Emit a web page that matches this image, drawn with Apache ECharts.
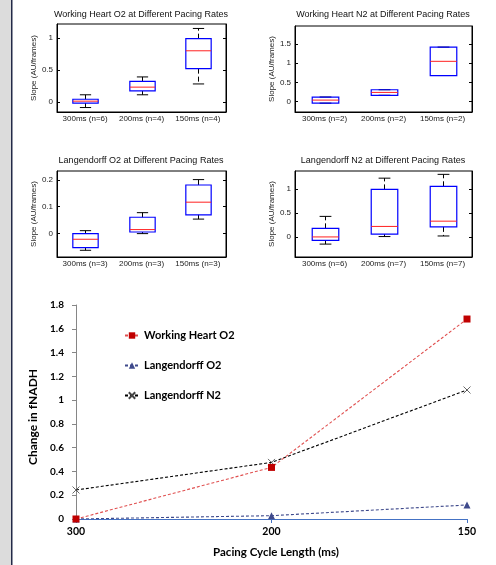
<!DOCTYPE html>
<html>
<head>
<meta charset="utf-8">
<script src="https://cdn.jsdelivr.net/npm/echarts@6/dist/echarts.min.js"></script>
<style>html,body{margin:0;padding:0;background:#fff}#c{width:496px;height:565px}</style>
</head>
<body>
<div id="c"></div>
<script>
// ---- Box-plot panels: [min, q1, median, q3, max] per category ----
var whO2Cats = ['300ms (n=6)', '200ms (n=4)', '150ms (n=4)'];
var whO2Box = [[-0.09, -0.02, 0.01, 0.04, 0.11], [0.11, 0.17, 0.23, 0.32, 0.39], [0.28, 0.52, 0.80, 0.99, 1.15]];
var whO2Ticks = [0, 0.5, 1];

var whN2Cats = ['300ms (n=2)', '200ms (n=2)', '150ms (n=2)'];
var whN2Box = [[-0.04, -0.04, 0.04, 0.12, 0.12], [0.165, 0.165, 0.24, 0.31, 0.31], [0.68, 0.68, 1.05, 1.42, 1.42]];
var whN2Ticks = [0, 0.5, 1, 1.5];

var lgO2Cats = ['300ms (n=3)', '200ms (n=3)', '150ms (n=3)'];
var lgO2Box = [[-0.062, -0.052, -0.021, 0.0, 0.011], [0.0, 0.006, 0.015, 0.061, 0.078], [0.054, 0.070, 0.117, 0.181, 0.201]];
var lgO2Ticks = [0, 0.1, 0.2];

var lgN2Cats = ['300ms (n=6)', '200ms (n=7)', '150ms (n=7)'];
var lgN2Box = [[-0.15, -0.07, 0.0, 0.18, 0.43], [0.008, 0.057, 0.22, 0.995, 1.23], [0.02, 0.21, 0.33, 1.06, 1.31]];
var lgN2Ticks = [0, 0.5, 1];

// ---- Line chart ----
var pacingCats = ['300', '200', '150'];
var lineWorkingHeartO2 = [0, 0.434, 1.682];
var lineLangendorffO2 = [0, 0.028, 0.118];
var lineLangendorffN2 = [0.244, 0.476, 1.085];

var boxFont = 'Liberation Sans, Arial, sans-serif';
var lineFont = 'Lato, sans-serif';

function renderBox(params, api) {
  var i = api.value(0);
  var pMin = api.coord([i, api.value(1)]);
  var pQ1 = api.coord([i, api.value(2)]);
  var pMed = api.coord([i, api.value(3)]);
  var pQ3 = api.coord([i, api.value(4)]);
  var pMax = api.coord([i, api.value(5)]);
  var band = api.size([1, 0])[0];
  var half = band * 0.225, cap = band * 0.1;
  var x = Math.round(pQ1[0]) + 0.5;
  var dash = {stroke: '#000', lineWidth: 1, lineDash: [5, 3]};
  var solid = {stroke: '#000', lineWidth: 1};
  return {
    type: 'group',
    children: [
      {type: 'line', shape: {x1: x, y1: pQ3[1], x2: x, y2: pMax[1]}, style: dash},
      {type: 'line', shape: {x1: x, y1: pQ1[1], x2: x, y2: pMin[1]}, style: dash},
      {type: 'line', shape: {x1: x - cap, y1: pMax[1], x2: x + cap, y2: pMax[1]}, style: solid},
      {type: 'line', shape: {x1: x - cap, y1: pMin[1], x2: x + cap, y2: pMin[1]}, style: solid},
      {type: 'rect', shape: {x: x - half, y: pQ3[1], width: 2 * half, height: pQ1[1] - pQ3[1]},
        style: {fill: 'rgba(0,0,0,0)', stroke: '#0000ff', lineWidth: 1.2}},
      {type: 'line', shape: {x1: x - half, y1: pMed[1], x2: x + half, y2: pMed[1]},
        style: {stroke: '#ff2020', lineWidth: 1}}
    ]
  };
}

var panels = [
  {cats: whO2Cats, box: whO2Box, ticks: whO2Ticks, min: -0.16, max: 1.22,
    grid: {left: 57, top: 24, width: 169, height: 88}, title: 'Working Heart O2 at Different Pacing Rates', tx: 141, ty: 15, gap: 19},
  {cats: whN2Cats, box: whN2Box, ticks: whN2Ticks, min: -0.27, max: 1.97,
    grid: {left: 295, top: 26, width: 177, height: 86}, title: 'Working Heart N2 at Different Pacing Rates', tx: 383, ty: 15, gap: 19},
  {cats: lgO2Cats, box: lgO2Box, ticks: lgO2Ticks, min: -0.087, max: 0.233,
    grid: {left: 57, top: 171, width: 169, height: 86}, title: 'Langendorff O2 at Different Pacing Rates', tx: 141, ty: 161, gap: 18},
  {cats: lgN2Cats, box: lgN2Box, ticks: lgN2Ticks, min: -0.42, max: 1.38,
    grid: {left: 295, top: 171, width: 177, height: 86}, title: 'Langendorff N2 at Different Pacing Rates', tx: 383, ty: 161, gap: 19}
];

var grids = [], xAxes = [], yAxes = [], series = [], graphics = [];

graphics.push({type: 'rect', shape: {x: 0, y: 0, width: 11, height: 565}, style: {fill: '#dcdcdc'}, silent: true});
graphics.push({type: 'rect', shape: {x: 11, y: 0, width: 1.5, height: 565}, style: {fill: '#232a48'}, silent: true});

panels.forEach(function (p, k) {
  grids.push(Object.assign({show: true, borderColor: '#000', borderWidth: 1, backgroundColor: '#fff'}, p.grid));
  xAxes.push({
    type: 'category', gridIndex: k, data: p.cats, boundaryGap: true,
    axisLine: {show: true, onZero: false, lineStyle: {color: '#000'}}, axisTick: {show: false},
    axisLabel: {color: '#222', fontFamily: boxFont, fontSize: 8, margin: 3, interval: 0}
  });
  yAxes.push({
    type: 'value', gridIndex: k, min: p.min, max: p.max, position: 'left',
    name: 'Slope (AU/frames)', nameLocation: 'middle', nameGap: p.gap, nameRotate: 90,
    nameTextStyle: {color: '#222', fontFamily: boxFont, fontSize: 8},
    axisLine: {show: true, onZero: false, lineStyle: {color: '#000'}},
    axisTick: {show: true, inside: true, length: 3, lineStyle: {color: '#000'}, customValues: p.ticks},
    axisLabel: {color: '#222', fontFamily: boxFont, fontSize: 8, margin: 4, customValues: p.ticks},
    splitLine: {show: false}
  });
  yAxes.push({
    type: 'value', gridIndex: k, min: p.min, max: p.max, position: 'right',
    axisLine: {show: true, onZero: false, lineStyle: {color: '#000'}},
    axisTick: {show: true, inside: true, length: 3, lineStyle: {color: '#000'}, customValues: p.ticks},
    axisLabel: {show: false}, splitLine: {show: false}
  });
  series.push({
    type: 'custom', xAxisIndex: k, yAxisIndex: 2 * k, renderItem: renderBox,
    encode: {x: 0, y: [1, 2, 3, 4, 5]},
    data: p.box.map(function (b, i) { return [i].concat(b); }),
    silent: true
  });
  graphics.push({type: 'text', x: p.tx, y: p.ty, silent: true,
    style: {text: p.title, fill: '#111', font: '9px ' + boxFont, textAlign: 'center', textVerticalAlign: 'middle'}});
});

// Line chart grid
var gi = panels.length;
grids.push({left: 76, top: 305, width: 391, height: 214});
xAxes.push({
  type: 'category', gridIndex: gi, data: pacingCats, boundaryGap: false,
  name: 'Pacing Cycle Length (ms)', nameLocation: 'middle', nameGap: 27,
  nameTextStyle: {color: '#000', fontFamily: lineFont, fontWeight: 'bold', fontSize: 11.5, padding: [0, 0, 0, 9]},
  axisLine: {show: true, lineStyle: {color: '#4472c4', width: 1}},
  axisTick: {show: true, length: 4, lineStyle: {color: '#4472c4'}},
  axisLabel: {color: '#000', fontFamily: lineFont, fontWeight: 'bold', fontSize: 10.5, margin: 7}
});
yAxes.push({
  type: 'value', gridIndex: gi, min: 0, max: 1.8, interval: 0.2,
  name: 'Change in fNADH', nameLocation: 'middle', nameGap: 37,
  nameTextStyle: {color: '#000', fontFamily: lineFont, fontWeight: 'bold', fontSize: 12, padding: [0, 10, 0, 0]},
  axisLine: {show: true, lineStyle: {color: '#868686'}},
  axisTick: {show: true, length: 4, lineStyle: {color: '#868686'}},
  axisLabel: {color: '#000', fontFamily: lineFont, fontWeight: 'bold', fontSize: 10, margin: 12},
  splitLine: {show: false}
});
var lyi = yAxes.length - 1;
series.push({
  name: 'Langendorff O2', type: 'line', xAxisIndex: gi, yAxisIndex: lyi, data: lineLangendorffO2,
  symbol: 'triangle', symbolSize: 7, itemStyle: {color: '#3f4a8c'},
  lineStyle: {color: '#3f4a8c', width: 1.1, type: [3, 2]}
});
series.push({
  name: 'Langendorff N2', type: 'line', xAxisIndex: gi, yAxisIndex: lyi, data: lineLangendorffN2,
  symbol: 'path://M0,0L10,10M10,0L0,10', symbolSize: 7,
  itemStyle: {color: 'rgba(0,0,0,0)', borderColor: '#444', borderWidth: 0.8},
  lineStyle: {color: '#000', width: 1.1, type: [3, 2]}
});
series.push({
  name: 'Working Heart O2', type: 'line', xAxisIndex: gi, yAxisIndex: lyi, data: lineWorkingHeartO2,
  symbol: 'rect', symbolSize: 7, itemStyle: {color: '#c00000'},
  lineStyle: {color: '#e05050', width: 1.1, type: [3, 2]}
});

var chart = echarts.init(document.getElementById('c'), null, {renderer: 'canvas'});
chart.setOption({
  animation: false,
  backgroundColor: '#fff',
  grid: grids, xAxis: xAxes, yAxis: yAxes, series: series,
  legend: {
    data: ['Working Heart O2', 'Langendorff O2', 'Langendorff N2'],
    orient: 'vertical', left: 124, top: 330, padding: 0, itemGap: 19, itemWidth: 14, itemHeight: 8,
    textStyle: {color: '#000', fontFamily: lineFont, fontWeight: 'bold', fontSize: 11},
    selectedMode: false
  },
  graphic: graphics
});
</script>
</body>
</html>
